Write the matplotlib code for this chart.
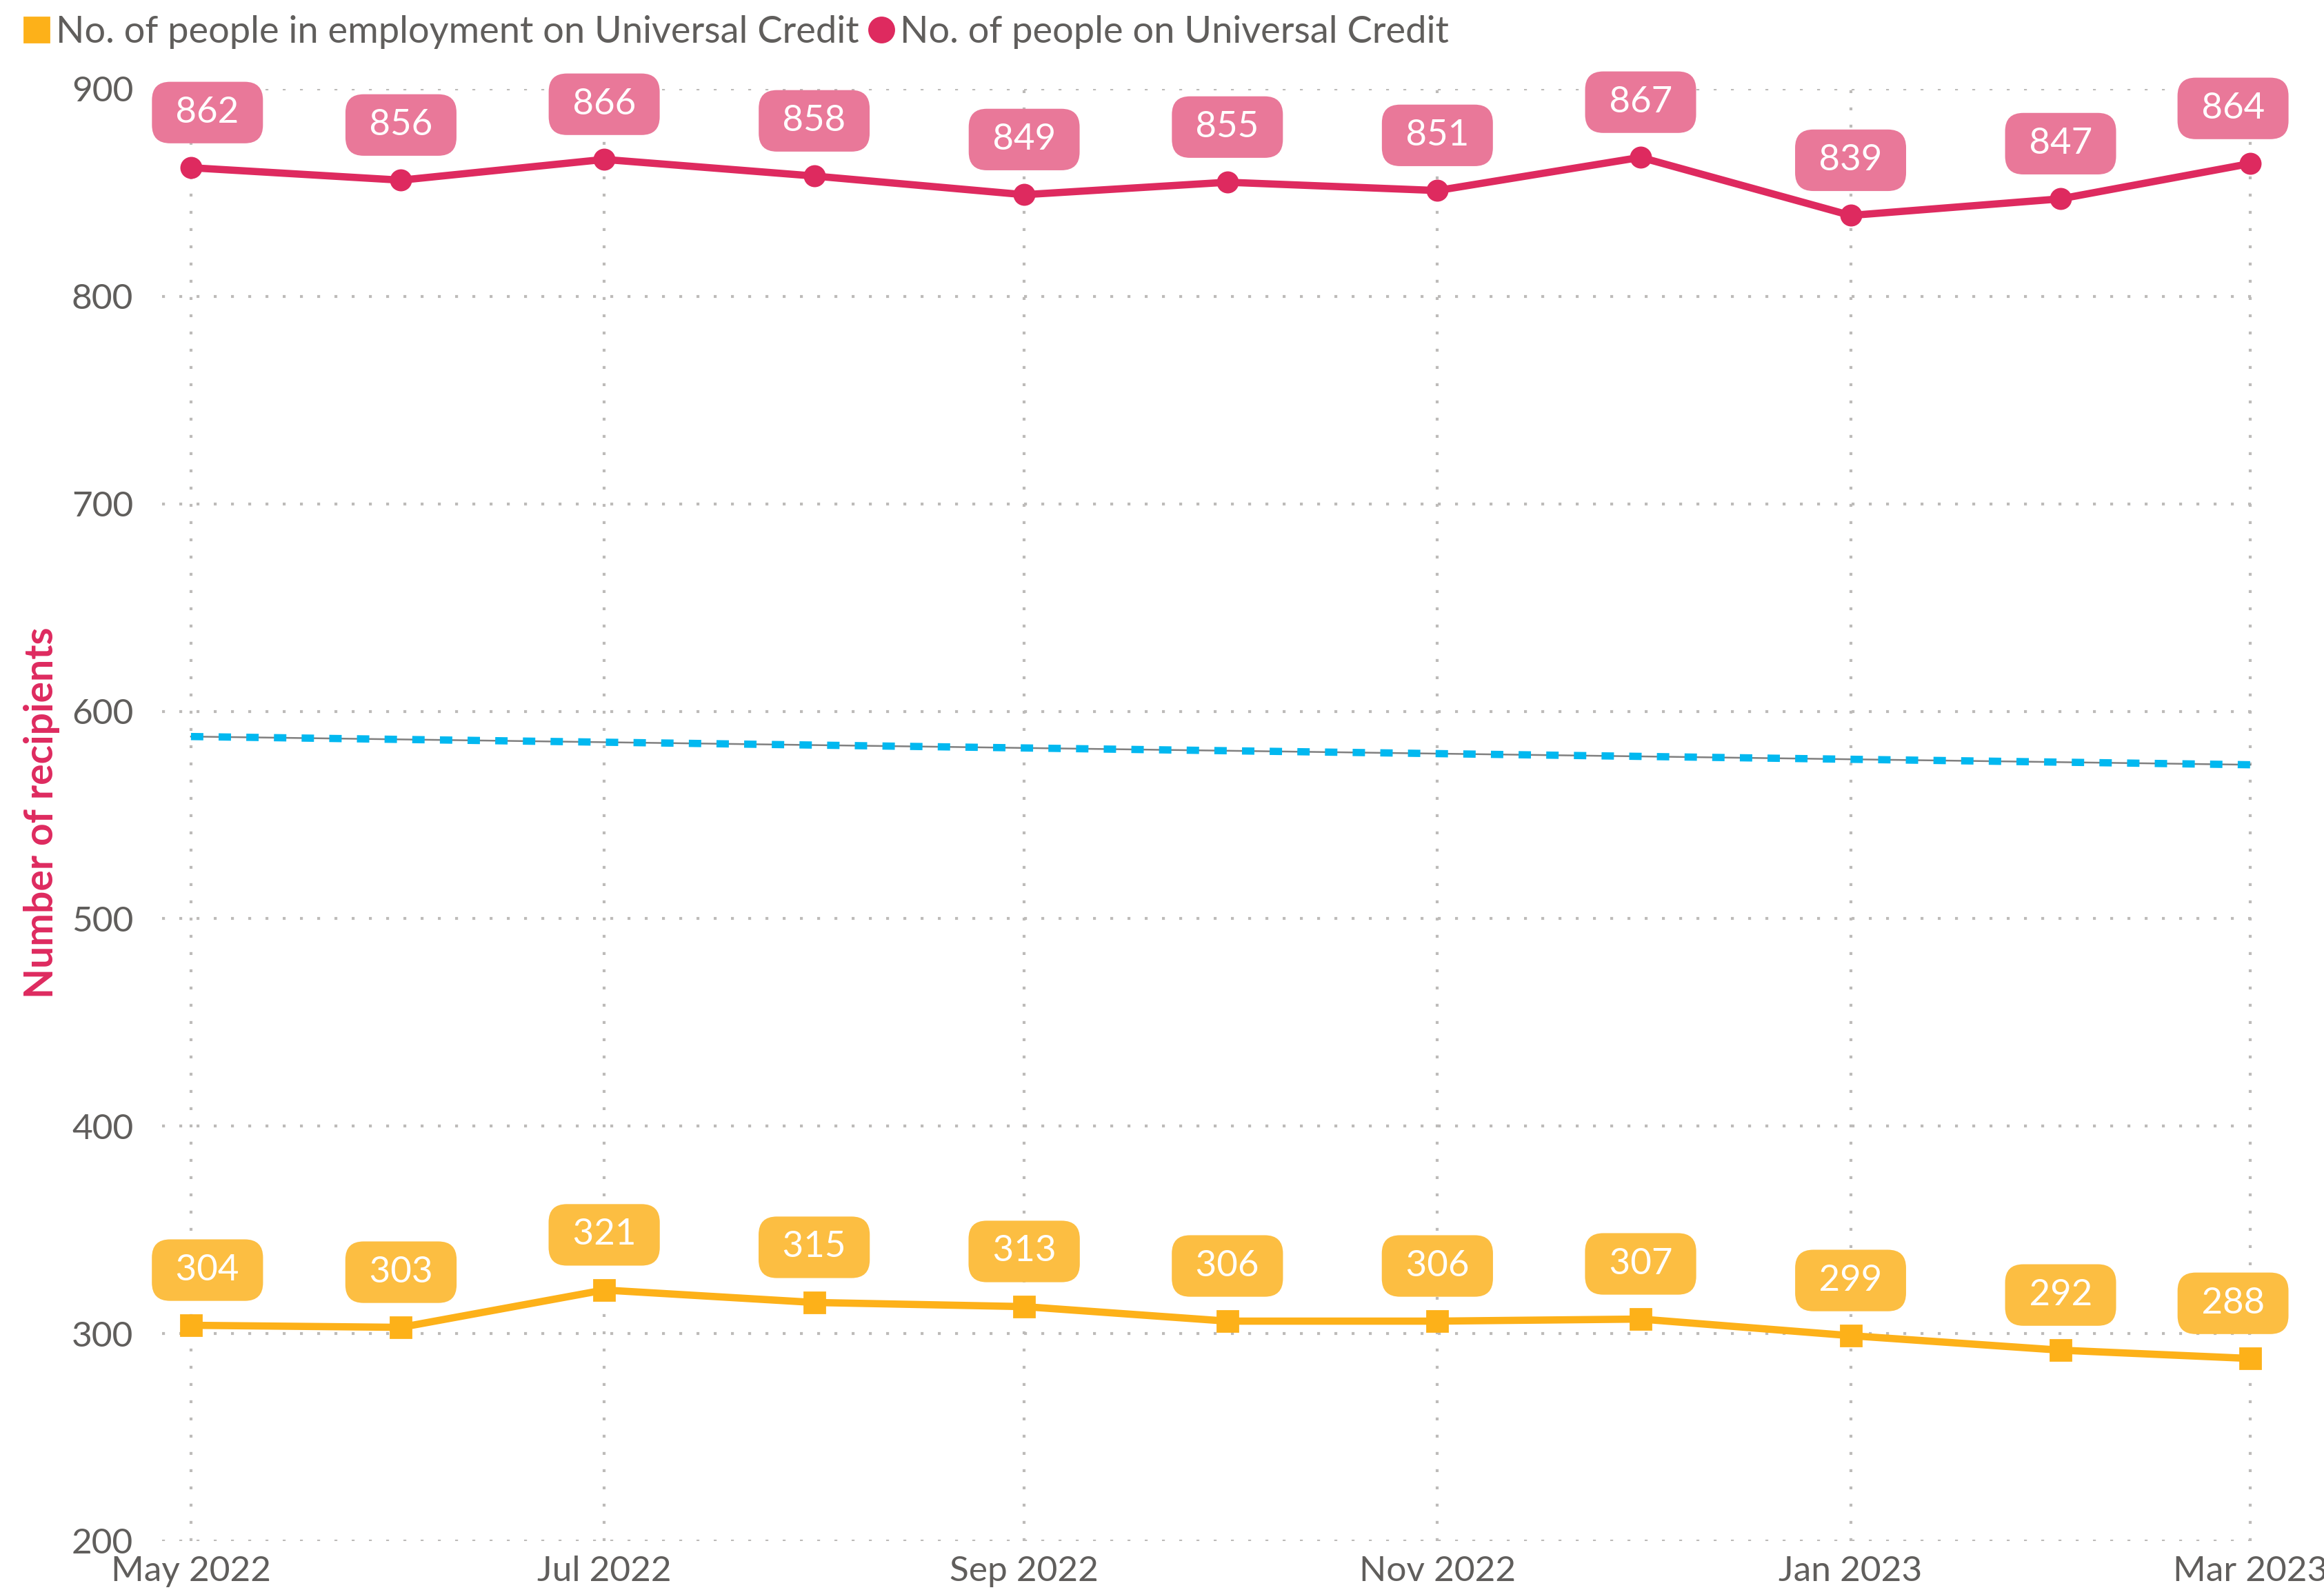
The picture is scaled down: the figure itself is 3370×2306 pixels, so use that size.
import numpy as np
import pandas as pd
import matplotlib
matplotlib.use('Agg')
import matplotlib.pyplot as plt
import matplotlib.dates as mdates
from matplotlib.lines import Line2D

# data
months = pd.date_range('2022-05-01', '2023-03-01', freq='MS')
uc_total = [862, 856, 866, 858, 849, 855, 851, 867, 839, 847, 864]
uc_employed = [304, 303, 321, 315, 313, 306, 306, 307, 299, 292, 288]
trend_ends = [587.8, 574.2]  # trend line value at first / last month
tick_months = months[::2]
legend_labels = ['No. of people in employment on Universal Credit',
                 'No. of people on Universal Credit']

pink = '#DE2A5F'
pink_box = '#E97899'
amber = '#FDB119'
amber_box = '#FCBE42'
cyan = '#01B8F0'
grey_text = '#605E5C'
grid_col = '#BDBBB9'

plt.rcParams['font.family'] = ['Lato', 'DejaVu Sans']

fig = plt.figure(figsize=(16.85, 11.53), dpi=200)
ax = fig.add_axes([0.0697, 0.0308, 0.9051, 0.9133])

# trend line (grey hairline under cyan dashes)
ax.plot([months[0], months[-1]], trend_ends, color='#808080', lw=0.9, zorder=2)
ax.plot([months[0], months[-1]], trend_ends, color=cyan, lw=3.8,
        linestyle=(0, (1.7, 2.1)), zorder=2.1)

ax.plot(months, uc_total, color=pink, lw=3.8, marker='o', markersize=10.5, zorder=3)
ax.plot(months, uc_employed, color=amber, lw=3.8, marker='s', markersize=11, zorder=3)

def add_labels(vals, box_col):
    n = len(vals)
    for i, (d, v) in enumerate(zip(months, vals)):
        dx = 0
        if i == 0:
            dx = 8.6
        elif i == n - 1:
            dx = -9
        ax.annotate(f' {v} ', (d, v), xytext=(dx, 28.8), textcoords='offset points',
                    ha='center', va='center', color='white', fontsize=19,
                    bbox=dict(boxstyle='round,pad=0.4,rounding_size=0.5', fc=box_col, ec='none'),
                    annotation_clip=False, zorder=5)

add_labels(uc_total, pink_box)
add_labels(uc_employed, amber_box)

ax.set_ylim(200, 900)
ax.set_yticks(range(200, 901, 100))
ax.set_xlim(months[0] - pd.Timedelta(days=4.28), months[-1] + pd.Timedelta(days=2.24))
ax.set_xticks(tick_months)
ax.xaxis.set_major_formatter(mdates.DateFormatter('%b %Y'))

ax.grid(True, color=grid_col, linestyle=(0, (1, 5)), linewidth=1.5)
ax.set_axisbelow(True)
for s in ax.spines.values():
    s.set_visible(False)
ax.tick_params(axis='both', length=0, labelsize=18.5, labelcolor=grey_text)
ax.tick_params(axis='y', pad=15)
ax.tick_params(axis='x', pad=7.5)

fig.text(0.018, 0.489, 'Number of recipients', rotation=90, ha='center', va='center',
         color=pink, fontsize=20.5, fontweight='bold')

handles = [Line2D([], [], marker='s', color=amber, linestyle='none', markersize=13),
           Line2D([], [], marker='o', color=pink, linestyle='none', markersize=13)]
fig.legend(handles, legend_labels, loc='upper left', bbox_to_anchor=(0.003, 1.0),
           ncol=2, frameon=False, fontsize=19.5, labelcolor=grey_text,
           handletextpad=0.1, columnspacing=0.2, handlelength=0.8, borderaxespad=0)

fig.savefig('out.png', dpi=200)
